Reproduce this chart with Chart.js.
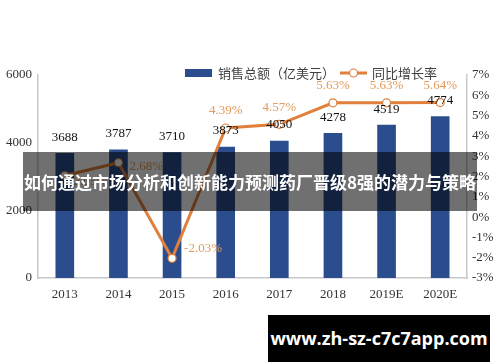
<!DOCTYPE html>
<html>
<head>
<meta charset="utf-8">
<script src="https://cdn.jsdelivr.net/npm/chart.js@4/dist/chart.umd.min.js"></script>
<style>
  html, body { margin: 0; padding: 0; background: #fff; }
  #wrap { position: relative; width: 500px; height: 362px; overflow: hidden; }
  #banner { position: absolute; left: 23px; top: 152px; width: 454px; height: 59px; background: rgba(0,0,0,0.56);
    color: #fff; font: bold 17px "Noto Sans CJK SC", sans-serif; line-height: 59px; text-align: center; white-space: nowrap; }
  #mark { position: absolute; left: 268px; top: 315px; width: 222px; height: 47px; background: #000;
    color: #fff; font: bold 18px "Open Sans", "DejaVu Sans", sans-serif; line-height: 46px; text-align: center; white-space: nowrap; }
</style>
</head>
<body>
<div id="wrap">
  <canvas id="c" width="500" height="362"></canvas>
  <div id="banner">如何通过市场分析和创新能力预测药厂晋级8强的潜力与策略</div>
  <div id="mark">www.zh-sz-c7c7app.com</div>
</div>
<script>
const categories = ["2013", "2014", "2015", "2016", "2017", "2018", "2019E", "2020E"];
const salesValues = [3688, 3787, 3710, 3873, 4050, 4278, 4519, 4774];
const growthValues = [2.05, 2.68, -2.03, 4.39, 4.57, 5.63, 5.63, 5.64];
const leftTicks = [0, 2000, 4000, 6000];
const rightTicks = [-3, -2, -1, 0, 1, 2, 3, 4, 5, 6, 7];
const salesLabel = "销售总额（亿美元）";
const growthLabel = "同比增长率";

const BAR = "#2b4d8e";
const LINE = "#e0803c";
const LABEL_ORANGE = "#e39a5a";
const SERIF = '"Liberation Serif", "DejaVu Serif", serif';
const CJK = '"Noto Sans CJK SC", sans-serif';

const labelPlugin = {
  id: "labels",
  afterDatasetsDraw(chart) {
    const ctx = chart.ctx;
    ctx.save();
    // bar value labels
    const barMeta = chart.getDatasetMeta(1);
    ctx.font = "13px " + SERIF;
    ctx.fillStyle = "#111";
    ctx.textAlign = "center";
    ctx.textBaseline = "middle";
    barMeta.data.forEach((el, i) => {
      ctx.fillText(String(salesValues[i]), el.x, el.y - 16);
    });
    // line labels
    const lineMeta = chart.getDatasetMeta(0);
    ctx.fillStyle = LABEL_ORANGE;
    lineMeta.data.forEach((el, i) => {
      const t = growthValues[i].toFixed(2) + "%";
      if (i === 0) { ctx.textAlign = "left"; ctx.fillText(t, el.x + 9, el.y + 6); }
      else if (i === 1) { ctx.textAlign = "left"; ctx.fillText(t, el.x + 11, el.y + 4); }
      else if (i === 2) { ctx.textAlign = "left"; ctx.fillText(t, el.x + 12, el.y - 10); }
      else { ctx.textAlign = "center"; ctx.fillText(t, el.x, el.y - 17); }
    });
    ctx.restore();
  },
  afterDraw(chart) {
    const ctx = chart.ctx;
    ctx.save();
    const y = 73;
    ctx.fillStyle = BAR;
    ctx.fillRect(185, y - 4, 27, 8);
    ctx.font = "13px " + CJK;
    ctx.fillStyle = "#404040";
    ctx.textAlign = "left";
    ctx.textBaseline = "middle";
    ctx.fillText(salesLabel, 218, y);
    ctx.strokeStyle = LINE;
    ctx.lineWidth = 3;
    ctx.beginPath(); ctx.moveTo(340, y); ctx.lineTo(367, y); ctx.stroke();
    ctx.beginPath(); ctx.arc(353.5, y, 4, 0, Math.PI * 2);
    ctx.fillStyle = "#fff"; ctx.fill();
    ctx.lineWidth = 1.2; ctx.stroke();
    ctx.fillStyle = "#404040";
    ctx.fillText(growthLabel, 372, y);
    ctx.restore();
  }
};

new Chart(document.getElementById("c"), {
  data: {
    labels: categories,
    datasets: [
      {
        type: "line", label: growthLabel, data: growthValues, yAxisID: "y2", order: 0,
        borderColor: LINE, borderWidth: 3, pointRadius: 4, pointBackgroundColor: "#fff",
        pointBorderColor: LINE, pointBorderWidth: 1.2, tension: 0
      },
      {
        type: "bar", label: salesLabel, data: salesValues, yAxisID: "y", order: 1,
        backgroundColor: BAR, barThickness: 18
      }
    ]
  },
  options: {
    responsive: false,
    animation: false,
    layout: { padding: { top: 75, left: 0, right: 0, bottom: 0 } },
    plugins: { legend: { display: false }, tooltip: { enabled: false } },
    scales: {
      x: {
        offset: true,
        grid: { display: false, drawTicks: false },
        border: { display: true, color: "#c8c8c8", width: 1.5 },
        ticks: { font: { family: SERIF, size: 13 }, color: "#333", padding: 9, maxRotation: 0, autoSkip: false },
        afterFit(s) { s.height = 84; }
      },
      y: {
        position: "left", min: 0, max: 6000,
        grid: { display: false, drawTicks: false },
        border: { display: true, color: "#c8c8c8", width: 1.5 },
        ticks: {
          font: { family: SERIF, size: 13 }, color: "#333", padding: 6,
          callback: (v) => leftTicks.includes(v) ? String(v) : null, stepSize: 2000
        },
        afterBuildTicks(s) { s.ticks = leftTicks.map(v => ({ value: v })); },
        afterFit(s) { s.width = 38; }
      },
      y2: {
        position: "right", min: -3, max: 7,
        grid: { display: false, drawTicks: false },
        border: { display: true, color: "#c8c8c8", width: 1.5 },
        ticks: {
          font: { family: SERIF, size: 13 }, color: "#333", padding: 5,
          callback: (v) => v + "%"
        },
        afterBuildTicks(s) { s.ticks = rightTicks.map(v => ({ value: v })); },
        afterFit(s) { s.width = 33; }
      }
    }
  },
  plugins: [labelPlugin]
});
</script>
</body>
</html>
